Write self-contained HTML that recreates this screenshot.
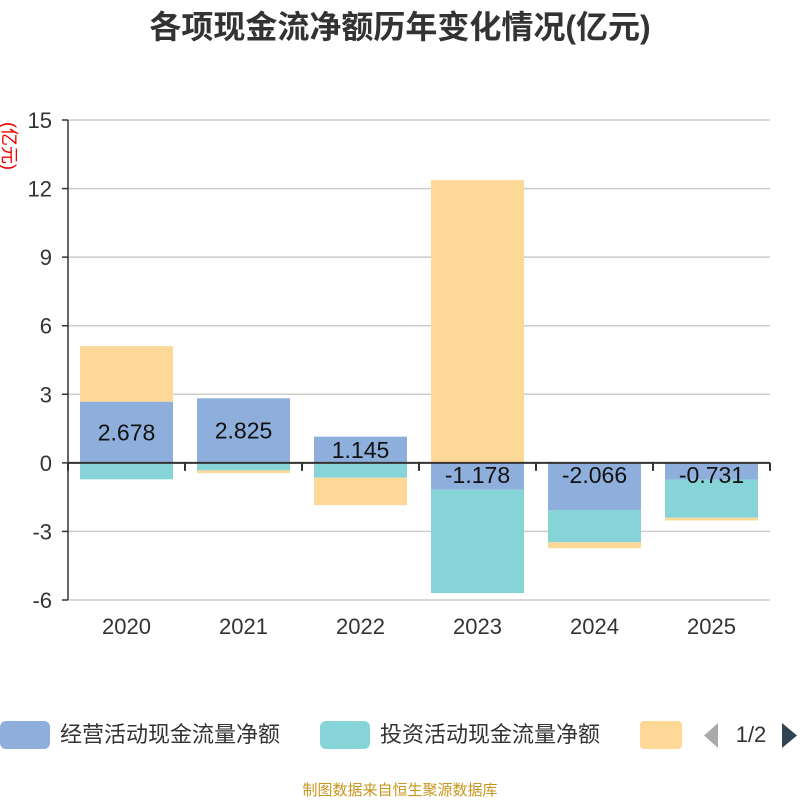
<!DOCTYPE html>
<html><head><meta charset="utf-8"><style>
body{margin:0;background:#fff;}
svg text{font-family:"Liberation Sans","Noto Sans CJK SC",sans-serif;}
</style></head><body>
<svg id="c" width="800" height="800" xmlns="http://www.w3.org/2000/svg">
<text x="400" y="38" text-anchor="middle" font-size="32" font-weight="bold" fill="#333">各项现金流净额历年变化情况(亿元)</text>
<text transform="translate(3,146) rotate(90)" text-anchor="middle" font-size="18" fill="#e00">(亿元)</text>
<g id="grid"></g><g id="bars"></g><g id="axes"></g>
<g>
<g><rect x="0" y="721" width="50" height="28" rx="6" fill="#8eaedb"/><text x="60" y="742" font-size="22" fill="#333">经营活动现金流量净额</text></g>
<g><rect x="320" y="721" width="50" height="28" rx="6" fill="#86d4d8"/><text x="380" y="742" font-size="22" fill="#333">投资活动现金流量净额</text></g>
<g><rect x="640" y="721" width="42" height="28" rx="4" fill="#fed897"/></g>
<path d="M718 723 L718 748 L704 735.5Z" fill="#aaa"/>
<text x="751" y="742" text-anchor="middle" font-size="22" fill="#333">1/2</text>
<path d="M782 723 L782 748 L797 735.5Z" fill="#2f4554"/>
</g>
<text x="400" y="795" text-anchor="middle" font-size="15" fill="#c8961e">制图数据来自恒生聚源数据库</text>
</svg>
<script>
const categories=["2020","2021","2022","2023","2024","2025"];
const operating=[2.678,2.825,1.145,-1.178,-2.066,-0.731];
const investing=[-0.72,-0.33,-0.65,-4.52,-1.41,-1.67];
const financing=[2.43,-0.12,-1.2,12.37,-0.26,-0.12];
const yTicks=[-6,-3,0,3,6,9,12,15];
const NS="http://www.w3.org/2000/svg";
const x0=68,x1=770,yTop=120,yBot=600,yMin=-6,yMax=15;
const bw=(x1-x0)/categories.length;
function y(v){return yBot-(v-yMin)/(yMax-yMin)*(yBot-yTop);}
function xc(i){return x0+bw*(i+0.5);}
function mk(t,a,p){const e=document.createElementNS(NS,t);for(const k in a)e.setAttribute(k,a[k]);p.appendChild(e);return e;}
const grid=document.getElementById('grid'),bars=document.getElementById('bars'),axes=document.getElementById('axes');
yTicks.forEach(v=>{
 if(v!==0){const l=mk('line',{x1:x0,x2:x1,y1:y(v),y2:y(v),stroke:'#ccc','stroke-width':1.5},grid);
 
 }
 mk('line',{x1:x0-6,x2:x0,y1:y(v),y2:y(v),stroke:'#333','stroke-width':1.5},axes);
 const t=mk('text',{x:x0-16,y:y(v)+8,'text-anchor':'end','font-size':22,fill:'#333'},axes);t.textContent=v;
 
 
});
const series=[[operating,'#8eaedb','operating'],[investing,'#86d4d8','investing'],[financing,'#fed897','financing']];
categories.forEach((c,i)=>{
 let pos=0,neg=0;
 series.forEach(([arr,col,nm])=>{
  const v=arr[i];let a,b;
  if(v>=0){a=pos;b=pos+v;pos=b;}else{a=neg;b=neg+v;neg=b;}
  const r=mk('rect',{x:xc(i)-46.5,width:93,y:Math.min(y(a),y(b)),height:Math.abs(y(a)-y(b)),fill:col},bars);
  
  
 });
 const v=operating[i];
 const t=mk('text',{x:xc(i),y:v>=0?y(v/2)+8:y(0)+20,'text-anchor':'middle','font-size':23,fill:'#111'},bars);
 t.textContent=v.toFixed(3);
 
 
 const xl=mk('text',{x:xc(i),y:634,'text-anchor':'middle','font-size':22,fill:'#333'},axes);xl.textContent=c;
 
 
});
mk('line',{x1:x0,x2:x0,y1:yTop,y2:yBot,stroke:'#333','stroke-width':1.5},axes);
mk('line',{x1:x0,x2:x1,y1:y(0),y2:y(0),stroke:'#333','stroke-width':2},axes);
for(let i=0;i<=categories.length;i++)mk('line',{x1:x0+bw*i,x2:x0+bw*i,y1:y(0),y2:y(0)+8,stroke:'#333','stroke-width':2},axes);
</script>
</body></html>
